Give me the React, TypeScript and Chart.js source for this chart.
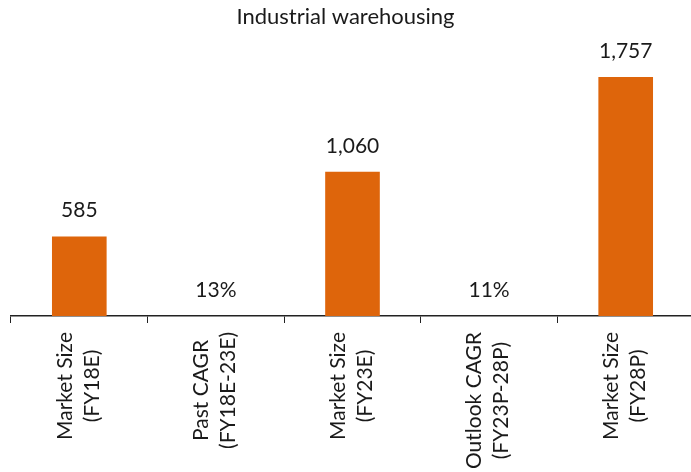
import React, { useEffect, useRef } from "react";
import { Chart, registerables } from "chart.js";

Chart.register(...registerables);

const title = "Industrial warehousing";
const categories: string[][] = [
  ["Market Size", "(FY18E)"],
  ["Past CAGR", "(FY18E-23E)"],
  ["Market Size", "(FY23E)"],
  ["Outlook CAGR", "(FY23P-28P)"],
  ["Market Size", "(FY28P)"],
];
const barValues = [585, 0, 1060, 0, 1757];
const valueLabels = ["585", "13%", "1,060", "11%", "1,757"];
const yMax = 2000;

const BAR_COLOR = "#DE650B";
const TEXT_COLOR = "#1a1a1a";
const FONT = "Lato, 'Noto Sans', sans-serif";

const labelPlugin = {
  id: "customLabels",
  afterDatasetsDraw(chart: any) {
    const ctx = chart.ctx as CanvasRenderingContext2D;
    const meta = chart.getDatasetMeta(0);
    ctx.save();
    ctx.fillStyle = TEXT_COLOR;
    ctx.textAlign = "center";
    ctx.textBaseline = "middle";
    // value labels
    ctx.font = `21px ${FONT}`;
    meta.data.forEach((bar: any, i: number) => {
      ctx.fillText(valueLabels[i], bar.x, bar.y - 26);
    });
    // category labels (rotated)
    const xs = chart.scales.x;
    ctx.font = `21px ${FONT}`;
    categories.forEach((lines, i) => {
      const cx = xs.getPixelForValue(i);
      const maxW = Math.max(...lines.map((l) => ctx.measureText(l).width));
      const cy = chart.chartArea.bottom + 16 + maxW / 2;
      const lh = 27;
      lines.forEach((l, j) => {
        const off = (j - (lines.length - 1) / 2) * lh;
        ctx.save();
        ctx.translate(cx + off - 1, cy);
        ctx.rotate(-Math.PI / 2);
        ctx.fillText(l, 0, 0);
        ctx.restore();
      });
    });
    // title
    ctx.font = `22px ${FONT}`;
    ctx.fillText(title, 345.5, 17);
    ctx.restore();
  },
};

export default function App() {
  const ref = useRef<HTMLCanvasElement>(null);
  useEffect(() => {
    document.body.style.margin = "0";
    const canvas = ref.current!;
    const chart = new Chart(canvas, {
      type: "bar",
      data: {
        labels: categories.map((c) => c.join(" ")),
        datasets: [
          {
            data: barValues,
            backgroundColor: BAR_COLOR,
            borderWidth: 0,
            barPercentage: 0.4,
            categoryPercentage: 1,
          },
        ],
      },
      options: {
        responsive: false,
        animation: false,
        layout: { padding: { top: 44, left: 11, right: 0, bottom: 0 } },
        plugins: {
          legend: { display: false },
          title: { display: false },
          tooltip: { enabled: false },
        },
        scales: {
          x: {
            grid: {
              display: true,
              drawOnChartArea: false,
              drawTicks: true,
              tickLength: 7,
              color: "#222",
              offset: true,
            },
            border: { display: true, color: "#222", width: 1.5 },
            ticks: { display: false },
            afterFit: (s: any) => {
              s.height = 472 - 316;
            },
          },
          y: { display: false, min: 0, max: yMax },
        },
      },
      plugins: [labelPlugin],
    });
    return () => chart.destroy();
  }, []);
  return (
    <div style={{ width: 691, height: 472, overflow: "hidden" }}>
      <canvas ref={ref} width={694} height={472} style={{ display: "block" }} />
    </div>
  );
}
